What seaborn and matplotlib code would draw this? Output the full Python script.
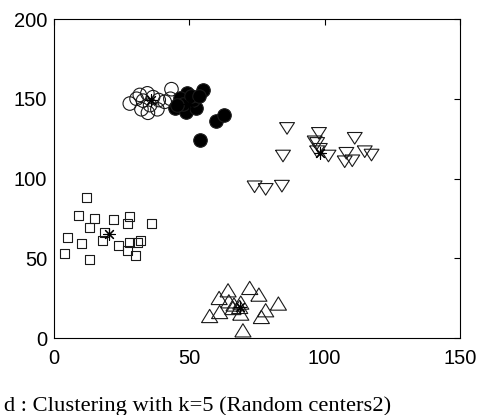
import matplotlib
matplotlib.use("Agg")
import matplotlib.pyplot as plt
from matplotlib.markers import MarkerStyle
import seaborn as sns
import pandas as pd

# Cluster members (x, y)
square_x = [12, 9, 15, 13, 22, 28, 27, 36, 5, 10, 18.7, 18, 24, 27, 28, 31, 32, 30, 4, 13]
square_y = [88, 77, 75, 69, 74, 76, 72, 72, 63, 59, 66, 61, 58, 55, 60, 60, 61, 52, 53, 49]

open_circle_x = [28, 31.7, 34.5, 32.9, 36.6, 38.7, 40.9, 43.4, 32.3, 34.7, 38.2, 35.5, 30.5, 43.0]
open_circle_y = [147, 152.4, 153.4, 148.8, 151, 149.2, 148.1, 156, 143.4, 141.2, 143.4, 146, 150, 150]

filled_circle_x = [55, 49.1, 46.4, 44.6, 48.9, 52.6, 51.3, 59.7, 62.7, 53.8, 47.5, 50.5, 53.5, 45.5]
filled_circle_y = [155.5, 153.4, 150.3, 144, 141.9, 144, 149.2, 136.2, 139.8, 124.1, 147, 152, 152, 146]

tri_up_x = [64.3, 72.3, 75.7, 82.9, 61, 64.6, 69, 66.1, 68.6, 61.2, 57.5, 69, 78.2, 76.6, 69.8, 66.5]
tri_up_y = [29.9, 31.4, 27.2, 21.6, 25.1, 23, 22.2, 18.8, 19.5, 16.3, 13.8, 15.3, 17.4, 13.2, 4.8, 21]

tri_down_x = [86.1, 84.6, 74.1, 78.2, 84.2, 97.9, 96.3, 97.2, 98.2, 97.2, 101.4, 108, 107.4, 110.2, 111.1, 114.8, 117.3]
tri_down_y = [131.4, 114.1, 94.8, 93.2, 95.2, 128.3, 123, 122, 118.3, 116.8, 114.1, 115.8, 110.5, 111.1, 125.2, 116.8, 114.7]

# Cluster centres
center_x = [20.2, 36, 50, 68.6, 98.2]
center_y = [65.5, 149, 147, 19.5, 115.8]

x_ticks = [0, 50, 100, 150]
y_ticks = [0, 50, 100, 150, 200]
caption = "d : Clustering with k=5 (Random centers2)"

sns.set_style("white")
plt.rcParams["font.family"] = ["Liberation Sans", "DejaVu Sans"]

fig = plt.figure(figsize=(4.79, 4.15), dpi=100)
ax = fig.add_axes([54 / 479, 1 - 338 / 415, 406 / 479, 319 / 415])

# slightly flattened triangles
tri_up = MarkerStyle([(-1, -0.82), (1, -0.82), (0, 0.82), (-1, -0.82)])
tri_down = MarkerStyle([(-1, 0.78), (1, 0.78), (0, -0.78), (-1, 0.78)])

edge = "#1a1a1a"
lw = 0.8

groups = [
    (square_x, square_y, "s", 42, "none"),
    (open_circle_x, open_circle_y, "o", 95, "none"),
    (filled_circle_x, filled_circle_y, "o", 95, "black"),
    (tri_up_x, tri_up_y, tri_up, 135, "none"),
    (tri_down_x, tri_down_y, tri_down, 115, "none"),
]
for gx, gy, mk, size, fc in groups:
    df = pd.DataFrame({"x": gx, "y": gy})
    sns.scatterplot(data=df, x="x", y="y", marker=mk, s=size,
                    facecolor=fc, edgecolor=edge, linewidth=lw, ax=ax,
                    legend=False, zorder=3)

cdf = pd.DataFrame({"x": center_x, "y": center_y})
sns.scatterplot(data=cdf, x="x", y="y", marker=(8, 2, 0), s=70,
                color="black", edgecolor="black", linewidth=0.8, ax=ax,
                legend=False, zorder=4)

ax.set_xlim(0, 150)
ax.set_ylim(0, 200)
ax.set_xticks(x_ticks)
ax.set_yticks(y_ticks)
ax.set_xlabel("")
ax.set_ylabel("")
ax.tick_params(direction="in", top=True, right=True, length=4, width=0.8,
               labelsize=14.5, colors="black")
ax.tick_params(axis="x", pad=8)
ax.tick_params(axis="y", pad=5)
for sp in ax.spines.values():
    sp.set_linewidth(0.8)
    sp.set_color("black")

fig.text(4 / 479, 1 - 411 / 415, caption, family="Liberation Serif",
         fontsize=16.2, va="baseline", ha="left", color="black")

fig.savefig("out.png", dpi=100)
